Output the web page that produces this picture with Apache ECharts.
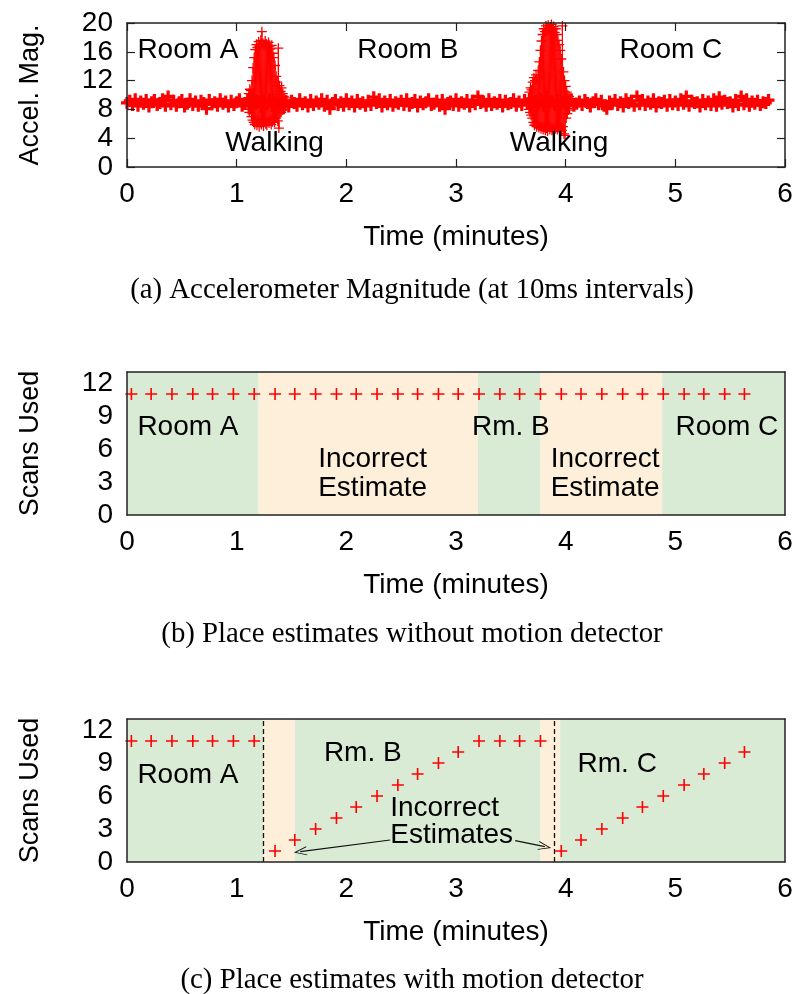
<!DOCTYPE html>
<html>
<head>
<meta charset="utf-8">
<script src="https://cdn.jsdelivr.net/npm/echarts@6/dist/echarts.min.js"></script>
<style>html,body{margin:0;padding:0;background:#fff}#c{width:799px;height:994px}</style>
</head>
<body>
<div id="c"></div>
<script>
// ---------------- DATA ----------------
const xTicks = { min: 0, max: 6, interval: 1 };
const accelTicks = { min: 0, max: 20, interval: 4 };
const scanTicks = { min: 0, max: 13, interval: 3 };

// accelerometer magnitude, resting (sampled every accelStep minutes from accelStart)
const accelStart = 0, accelStep = 0.025;
const accelBase = [
 8.9,9.2,8.6,9.4,8.5,9.1,8.8,9.3,8.4,9.0,9.3,8.6,8.9,9.4,8.5,9.8,8.7,9.2,8.5,9.0,
 9.3,8.4,8.8,9.4,8.6,9.1,8.5,9.2,8.9,8.1,9.3,8.7,9.0,8.5,9.4,8.8,9.1,8.4,9.2,8.6,
 9.0,9.4,8.5,8.9,9.3,8.6,9.8,8.8,9.1,8.4,9.2,8.7,9.4,8.5,9.0,8.8,9.3,8.6,9.1,8.4,
 9.2,8.9,8.5,9.4,8.7,9.0,8.4,9.3,8.6,9.1,8.8,9.4,8.5,9.2,8.1,8.9,9.3,8.6,9.0,8.5,
 9.4,8.7,9.1,8.4,9.3,8.8,9.0,8.5,9.2,8.6,9.7,8.9,9.4,8.4,9.1,8.7,9.3,8.5,9.0,8.8,
 9.2,8.6,9.4,8.5,8.9,9.3,8.4,9.1,8.7,9.0,9.4,8.6,8.8,9.2,8.5,9.3,8.1,8.9,9.1,8.6,
 9.4,8.5,9.0,8.8,9.3,8.4,9.2,8.7,9.8,8.9,9.1,8.5,9.4,8.6,9.0,8.8,9.3,8.4,9.2,8.7,
 8.9,9.4,8.5,9.1,8.6,9.3,8.8,9.0,8.4,9.2,8.7,9.4,8.5,9.7,8.9,9.1,8.6,9.3,8.4,9.0,
 9.2,8.7,9.4,8.5,8.8,9.1,8.6,9.3,8.9,8.4,9.0,9.4,8.7,9.2,8.5,8.1,9.1,8.8,9.3,8.6,
 9.0,8.4,9.4,8.9,9.2,8.5,9.8,8.7,9.3,8.6,9.1,8.8,9.4,8.4,9.0,8.9,9.2,8.5,9.3,8.7,
 9.1,8.6,9.4,8.8,9.8,8.5,9.2,8.9,9.0,8.4,9.3,8.7,9.1,8.6,9.4,8.5,9.7,8.8,9.2,8.9,
 9.0,8.4,9.3,8.6,9.8,8.7,9.4,8.5,9.1,8.8,9.2,8.6,9.0,8.9,9.3
];
// walking bursts (sampled every walkStep minutes)
const walkStep = 0.005;
const walk1Start = 1.10;
const walk1 = [
 9.5,8.0,10.2,7.6,10.8,8.0,10.6,7.0,12.0,6.5,13.8,6.2,15.2,5.9,16.3,6.4,17.0,5.8,16.6,6.6,
 17.4,5.6,16.8,6.2,17.6,5.9,18.8,6.5,17.2,5.7,16.9,6.3,17.5,6.0,17.1,5.8,16.7,6.4,17.3,6.1,
 16.8,6.6,16.4,5.9,16.9,6.3,15.8,6.7,15.2,6.2,14.1,6.8,12.6,7.1,11.8,6.4,16.5,5.4,11.3,7.4,
 10.5,7.6,11.0,7.9,10.2,8.0,9.8,8.2,9.6,8.4,9.3
];
const walk2Start = 3.66;
const walk2 = [
 9.6,8.0,10.4,7.6,11.0,7.2,10.7,6.8,11.8,6.2,12.4,5.8,12.0,6.0,12.8,5.6,12.2,5.9,13.4,5.5,
 14.6,5.7,16.2,5.3,17.5,5.6,18.4,5.2,19.2,5.5,18.8,5.1,19.6,5.4,19.0,5.0,19.7,5.6,18.9,5.2,
 19.4,5.5,19.8,5.1,19.1,5.4,19.5,5.0,18.7,5.3,19.2,5.6,18.4,5.2,17.6,5.5,17.0,5.0,16.2,5.4,
 15.0,5.1,19.6,5.6,13.2,4.6,12.0,4.4,11.2,6.8,10.4,7.4,10.0,7.9,9.8,8.1,9.5
];

// scans used (minutes)
const scanTimes = [0.04,0.22,0.41,0.60,0.78,0.97,1.16,1.35,1.53,1.72,1.91,2.09,2.28,2.47,2.65,2.84,
                   3.02,3.21,3.40,3.58,3.77,3.96,4.14,4.33,4.52,4.70,4.89,5.08,5.26,5.45,5.63];
const scansNoMotion = [11,11,11,11,11,11,11,11,11,11,11,11,11,11,11,11,11,11,11,11,11,11,11,11,11,11,11,11,11,11,11];
const scansMotion   = [11,11,11,11,11,11,11,1,2,3,4,5,6,7,8,9,10,11,11,11,11,1,2,3,4,5,6,7,8,9,10];

// place estimate regions: [from, to, correct?]
const regionsNoMotion = [[0,1.20,true],[1.20,3.20,false],[3.20,3.77,true],[3.77,4.88,false],[4.88,6,true]];
const regionsMotion   = [[0,1.24,true],[1.24,1.53,false],[1.53,3.77,true],[3.77,3.95,false],[3.95,6,true]];
const motionDetected = [1.24, 3.90];

// annotations [text, t, value, align]
const labelsA = [['Room A',0.556,16.2,'center'],['Room B',2.56,16.2,'center'],['Room C',4.96,16.2,'center'],
                 ['Walking',1.345,3.3,'center'],['Walking',3.94,3.3,'center']];
const labelsB = [['Room A',0.556,8.0,'center'],['Incorrect',2.24,5.1,'center'],['Estimate',2.24,2.45,'center'],
                 ['Rm. B',3.50,8.0,'center'],['Incorrect',4.36,5.1,'center'],['Estimate',4.36,2.45,'center'],
                 ['Room C',5.47,8.0,'center']];
const labelsC = [['Room A',0.556,7.9,'center'],['Rm. B',2.15,9.9,'center'],['Rm. C',4.47,8.9,'center'],
                 ['Incorrect',2.40,4.9,'left'],['Estimates',2.40,2.4,'left']];
const arrowsC = [[[2.40,2.0],[1.58,0.94]],[[3.54,1.94],[3.81,1.39]]];

const yNames = ['Accel. Mag.','Scans Used','Scans Used'];
const xName = 'Time (minutes)';
const captions = ['(a) Accelerometer Magnitude (at 10ms intervals)',
                  '(b) Place estimates without motion detector',
                  '(c) Place estimates with motion detector'];

// ---------------- CHART ----------------
const SANS = 'Liberation Sans', SERIF = 'Liberation Serif';
const TXT = '#000';
const RED = '#ff0000';
const OK_C = '#d9ead5', BAD_C = '#fdefd9';
const plus = 'path://M5,0L5,10M0,5L10,5';
const arrowHead = 'path://M0,10L5,0L10,10L9,10L5,2L1,10Z';

const grids = [
  {left:127, top:23, width:658, height:144},
  {left:127, top:372, width:658, height:143},
  {left:127, top:719, width:658, height:143}
];
const captionY = [290, 634, 980];

const xAxes = [], yAxes = [];
grids.forEach((g, i) => {
  const ticks = i === 0;
  xAxes.push({type:'value', gridIndex:i, min:xTicks.min, max:xTicks.max, interval:xTicks.interval, z:5,
    name:xName, nameLocation:'middle', nameGap:56,
    nameTextStyle:{fontFamily:SANS, fontSize:28, color:TXT},
    axisLine:{show:true, lineStyle:{color:'#222', width:1.5}},
    axisTick:{show:ticks, inside:true, length:8, lineStyle:{color:'#222', width:1.2}},
    axisLabel:{fontFamily:SANS, fontSize:28, color:TXT, margin:13},
    splitLine:{show:false}});
  xAxes.push({type:'value', gridIndex:i, position:'top', min:xTicks.min, max:xTicks.max, interval:xTicks.interval, z:5,
    axisLine:{show:true, onZero:false, lineStyle:{color:'#222', width:1.5}},
    axisTick:{show:ticks, inside:true, length:8, lineStyle:{color:'#222', width:1.2}},
    axisLabel:{show:false}, splitLine:{show:false}});
  const yt = i === 0 ? accelTicks : scanTicks;
  yAxes.push({type:'value', gridIndex:i, min:yt.min, max:yt.max, interval:yt.interval, z:5,
    name:yNames[i], nameLocation:'middle', nameGap:83, nameRotate:90,
    nameTextStyle:{fontFamily:SANS, fontSize:27, color:TXT},
    axisLine:{show:true, onZero:false, lineStyle:{color:'#222', width:1.5}},
    axisTick:{show:ticks, inside:true, length:8, lineStyle:{color:'#222', width:1.2}},
    axisLabel:{fontFamily:SANS, fontSize:28, color:TXT, margin:14,
      showMaxLabel: i === 0},
    splitLine:{show:false}});
  yAxes.push({type:'value', gridIndex:i, position:'right', min:yt.min, max:yt.max, interval:yt.interval, z:5,
    axisLine:{show:true, onZero:false, lineStyle:{color:'#222', width:1.5}},
    axisTick:{show:ticks, inside:true, length:8, lineStyle:{color:'#222', width:1.2}},
    axisLabel:{show:false}, splitLine:{show:false}});
});

function regionSeries(regions, gi, extraMarkLine) {
  const s = {type:'scatter', xAxisIndex:gi*2, yAxisIndex:gi*2, data:[], silent:true, z:1,
    markArea:{silent:true, data: regions.map(r => [
      {xAxis:r[0], itemStyle:{color: r[2] ? OK_C : BAD_C, opacity:1}}, {xAxis:r[1]}])}};
  if (extraMarkLine) s.markLine = extraMarkLine;
  return s;
}
function labelSeries(labels, gi, extra) {
  const s = {type:'scatter', xAxisIndex:gi*2, yAxisIndex:gi*2, silent:true, z:6,
    symbolSize:1, itemStyle:{color:'rgba(0,0,0,0)', opacity:1},
    data: labels.map(l => ({value:[l[1], l[2]], name:l[0],
      label:{show:true, position:'inside', formatter:'{b}', align:l[3], verticalAlign:'middle',
             fontFamily:SANS, fontSize:28, color:TXT, opacity:1}}))};
  Object.assign(s, extra || {});
  return s;
}
const plusStyle = w => ({color:'rgba(0,0,0,0)', borderColor:RED, borderWidth:w, opacity:1});

const series = [
  // (a)
  {type:'scatter', xAxisIndex:0, yAxisIndex:0, z:2, symbol:plus, symbolSize:12, itemStyle:plusStyle(3.2),
   data: accelBase.map((v, i) => [accelStart + i * accelStep, v])},
  {type:'line', xAxisIndex:0, yAxisIndex:0, z:3, symbol:plus, symbolSize:10, showSymbol:true,
   itemStyle:plusStyle(1.3), lineStyle:{color:RED, width:1},
   data: walk1.map((v, i) => [walk1Start + i * walkStep, v])},
  {type:'line', xAxisIndex:0, yAxisIndex:0, z:3, symbol:plus, symbolSize:10, showSymbol:true,
   itemStyle:plusStyle(1.3), lineStyle:{color:RED, width:1},
   data: walk2.map((v, i) => [walk2Start + i * walkStep, v])},
  labelSeries(labelsA, 0),
  // (b)
  regionSeries(regionsNoMotion, 1),
  {type:'scatter', xAxisIndex:2, yAxisIndex:2, z:3, symbol:plus, symbolSize:12, itemStyle:plusStyle(1.6),
   data: scanTimes.map((t, i) => [t, scansNoMotion[i]])},
  labelSeries(labelsB, 1),
  // (c)
  regionSeries(regionsMotion, 2, {silent:true, symbol:'none', label:{show:false},
    lineStyle:{color:'#111', width:1.3, type:[5,3], opacity:1},
    data: motionDetected.map(t => ({xAxis:t}))}),
  {type:'scatter', xAxisIndex:4, yAxisIndex:4, z:3, symbol:plus, symbolSize:12, itemStyle:plusStyle(1.6),
   data: scanTimes.map((t, i) => [t, scansMotion[i]])},
  labelSeries(labelsC, 2, {markLine:{silent:true, symbol:['none', arrowHead], symbolSize:[9,13],
    label:{show:false}, lineStyle:{color:'#111', width:1.2, type:'solid', opacity:1},
    data: arrowsC.map(a => [{coord:a[0]}, {coord:a[1]}])}})
];

const chart = echarts.init(document.getElementById('c'), null, {renderer:'canvas'});
chart.setOption({
  animation:false,
  backgroundColor:'#fff',
  grid: grids,
  xAxis: xAxes,
  yAxis: yAxes,
  series: series,
  graphic: captions.map((c, i) => ({type:'text', x:412, y:captionY[i], silent:true,
    style:{text:c, align:'center', verticalAlign:'middle', fontFamily:SERIF, fontSize:28.8, fill:TXT}}))
});
</script>
</body>
</html>
